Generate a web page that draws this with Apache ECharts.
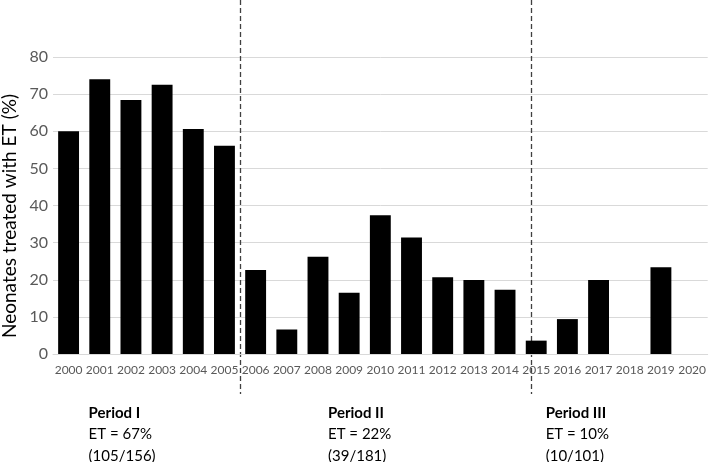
<!DOCTYPE html>
<html>
<head>
<meta charset="utf-8">
<script src="https://cdn.jsdelivr.net/npm/echarts@6/dist/echarts.min.js"></script>
<style>html,body{margin:0;padding:0;background:#fff;}#c{width:709px;height:462px;}</style>
</head>
<body>
<div id="c"></div>
<script>
var years = ['2000','2001','2002','2003','2004','2005','2006','2007','2008','2009','2010','2011','2012','2013','2014','2015','2016','2017','2018','2019','2020'];
var etPercent = [60, 74, 68.4, 72.5, 60.6, 56.1, 22.6, 6.6, 26.2, 16.5, 37.4, 31.4, 20.7, 19.9, 17.3, 3.6, 9.4, 19.9, 0, 23.4, 0];
var yTicks = [0, 10, 20, 30, 40, 50, 60, 70, 80];
var periodNames = ['Period I', 'Period II', 'Period III'];
var periodET = ['ET = 67%', 'ET = 22%', 'ET = 10%'];
var periodCounts = ['(105/156)', '(39/181)', '(10/101)'];
// period separators as fractional category positions
var separators = [5.5, 14.84];

var FONT = 'Lato, "Open Sans", sans-serif';
var chart = echarts.init(document.getElementById('c'));
chart.setOption({
  animation: false,
  grid: {left: 53, right: 1, top: 57, bottom: 108},
  xAxis: {
    type: 'category',
    data: years,
    axisLine: {show: true, lineStyle: {color: '#d9d9d9'}},
    axisTick: {show: false},
    axisLabel: {color: '#595959', fontSize: 12, fontFamily: FONT, margin: 10, interval: 0}
  },
  yAxis: {
    type: 'value',
    min: yTicks[0], max: yTicks[yTicks.length - 1], interval: 10,
    axisLine: {show: false},
    axisTick: {show: false},
    axisLabel: {color: '#595959', fontSize: 16, fontFamily: FONT, margin: 5},
    splitLine: {lineStyle: {color: '#d9d9d9', width: 1}}
  },
  series: [{
    type: 'bar',
    data: etPercent,
    barCategoryGap: '33%',
    itemStyle: {color: '#000'}
  }]
});

function catX(pos) {
  var i = Math.floor(pos), f = pos - i;
  var a = chart.convertToPixel({xAxisIndex: 0}, years[i]);
  var b = chart.convertToPixel({xAxisIndex: 0}, years[i + 1]);
  return a + (b - a) * f;
}

var graphics = [];
separators.forEach(function (s) {
  var x = Math.round(catX(s)) + 0.5;
  graphics.push({
    type: 'line', silent: true,
    shape: {x1: x, y1: 0, x2: x, y2: 394},
    style: {stroke: '#404040', lineWidth: 1.3, lineDash: [5, 3]}
  });
});
var periodX = [88.6, 328, 545.7];
periodNames.forEach(function (n, i) {
  graphics.push({
    type: 'text', silent: true,
    x: periodX[i], y: 402,
    style: {
      text: '{b|' + n + '}\n' + periodET[i] + '\n' + periodCounts[i],
      fontFamily: FONT, fontSize: 15, fill: '#000', lineHeight: 21.5,
      verticalAlign: 'top', align: 'left',
      rich: {b: {fontWeight: 'bold', fontSize: 15, fontFamily: FONT, fill: '#000', lineHeight: 21.5}}
    }
  });
});
graphics.push({
  type: 'text', silent: true,
  x: 10, y: 216, rotation: Math.PI / 2,
  style: {text: 'Neonates treated with ET (%)', fontFamily: FONT, fontSize: 19, fill: '#000', align: 'center', verticalAlign: 'middle'}
});
chart.setOption({graphic: graphics});
</script>
</body>
</html>
